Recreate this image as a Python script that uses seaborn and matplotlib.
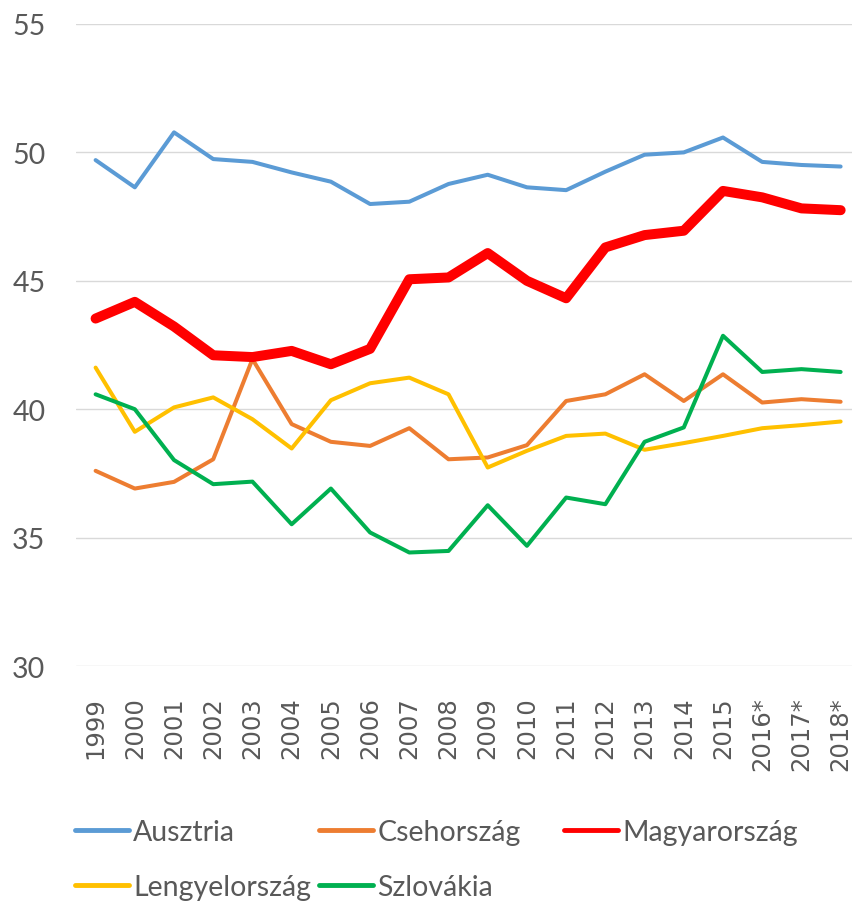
import numpy as np
import pandas as pd
import matplotlib
matplotlib.use("Agg")
import matplotlib.pyplot as plt
from matplotlib.lines import Line2D
import seaborn as sns

years = ["1999", "2000", "2001", "2002", "2003", "2004", "2005", "2006", "2007", "2008",
         "2009", "2010", "2011", "2012", "2013", "2014", "2015", "2016*", "2017*", "2018*"]

ausztria = [49.7, 48.64, 50.78, 49.74, 49.63, 49.22, 48.86, 47.99, 48.08, 48.77,
            49.13, 48.64, 48.53, 49.25, 49.91, 50.0, 50.58, 49.63, 49.51, 49.45]
csehorszag = [37.6, 36.91, 37.17, 38.05, 41.95, 39.42, 38.73, 38.57, 39.26, 38.05,
              38.12, 38.6, 40.32, 40.58, 41.36, 40.32, 41.36, 40.26, 40.39, 40.29]
magyarorszag = [43.53, 44.18, 43.22, 42.1, 42.03, 42.27, 41.75, 42.35, 45.06, 45.13,
                46.08, 45.0, 44.32, 46.3, 46.78, 46.95, 48.5, 48.25, 47.82, 47.75]
lengyelorszag = [41.62, 39.12, 40.07, 40.46, 39.61, 38.47, 40.35, 41.01, 41.23, 40.58,
                 37.73, 38.38, 38.96, 39.05, 38.42, 38.68, 38.96, 39.26, 39.38, 39.52]
szlovakia = [40.58, 40.0, 38.02, 37.08, 37.18, 35.52, 36.91, 35.2, 34.42, 34.48,
             36.26, 34.68, 36.56, 36.3, 38.73, 39.29, 42.86, 41.45, 41.56, 41.45]

countries = ["Ausztria", "Csehország", "Magyarország", "Lengyelország", "Szlovákia"]
colors = ["#5B9BD5", "#ED7D31", "#FF0000", "#FFC000", "#00B050"]
widths = [2.9, 2.9, 7.2, 2.9, 2.9]

series = [ausztria, csehorszag, magyarorszag, lengyelorszag, szlovakia]
df = pd.concat(
    [pd.DataFrame({"year": years, "value": v, "country": c}) for c, v in zip(countries, series)],
    ignore_index=True,
)

sns.set_theme(style="white")
plt.rcParams["font.family"] = ["Lato", "DejaVu Sans"]
text_col = "#595959"

W, H = 852, 903
fig = plt.figure(figsize=(W / 100, H / 100), dpi=100)
ax = fig.add_axes([76 / W, 1 - 667 / H, 1 - 76 / W, (667 - 25) / H])

sns.lineplot(
    data=df, x="year", y="value", hue="country", size="country",
    hue_order=countries, palette=dict(zip(countries, colors)),
    sizes=dict(zip(countries, widths)), sort=False, legend=False, ax=ax,
)
for ln in ax.lines:
    ln.set_solid_capstyle("round")
    ln.set_solid_joinstyle("round")

ax.set_ylim(30, 55)
ax.set_yticks([30, 35, 40, 45, 50, 55])
ax.set_xlim(-0.5, 19.29)
ax.set_xlabel("")
ax.set_ylabel("")
ax.grid(axis="y", color="#D9D9D9", linewidth=1.0)
ax.grid(axis="x", visible=False)
ax.set_axisbelow(True)
for s in ax.spines.values():
    s.set_visible(False)

ax.tick_params(axis="y", length=0, pad=22, labelsize=20.5, labelcolor=text_col)
ax.tick_params(axis="x", length=0, pad=22, labelcolor=text_col)
for lab in ax.get_xticklabels():
    lab.set_rotation(90)
    lab.set_fontfamily("DejaVu Sans")
    lab.set_fontsize(17.5)

# legend laid out like Excel: equal-width columns, row-major order
col_x = [75, 319, 564]
row_y = [833, 888]
for i, (name, c) in enumerate(zip(countries, colors)):
    h = Line2D([], [], color=c, linewidth=3.5, solid_capstyle="round")
    leg = fig.legend(
        [h], [name], loc="center left",
        bbox_to_anchor=(col_x[i % 3] / W, 1 - row_y[i // 3] / H),
        frameon=False, fontsize=20.5, handlelength=1.9, handletextpad=0.15,
        borderpad=0, borderaxespad=0,
    )
    for t in leg.get_texts():
        t.set_color(text_col)

fig.savefig("out.png", dpi=100)
